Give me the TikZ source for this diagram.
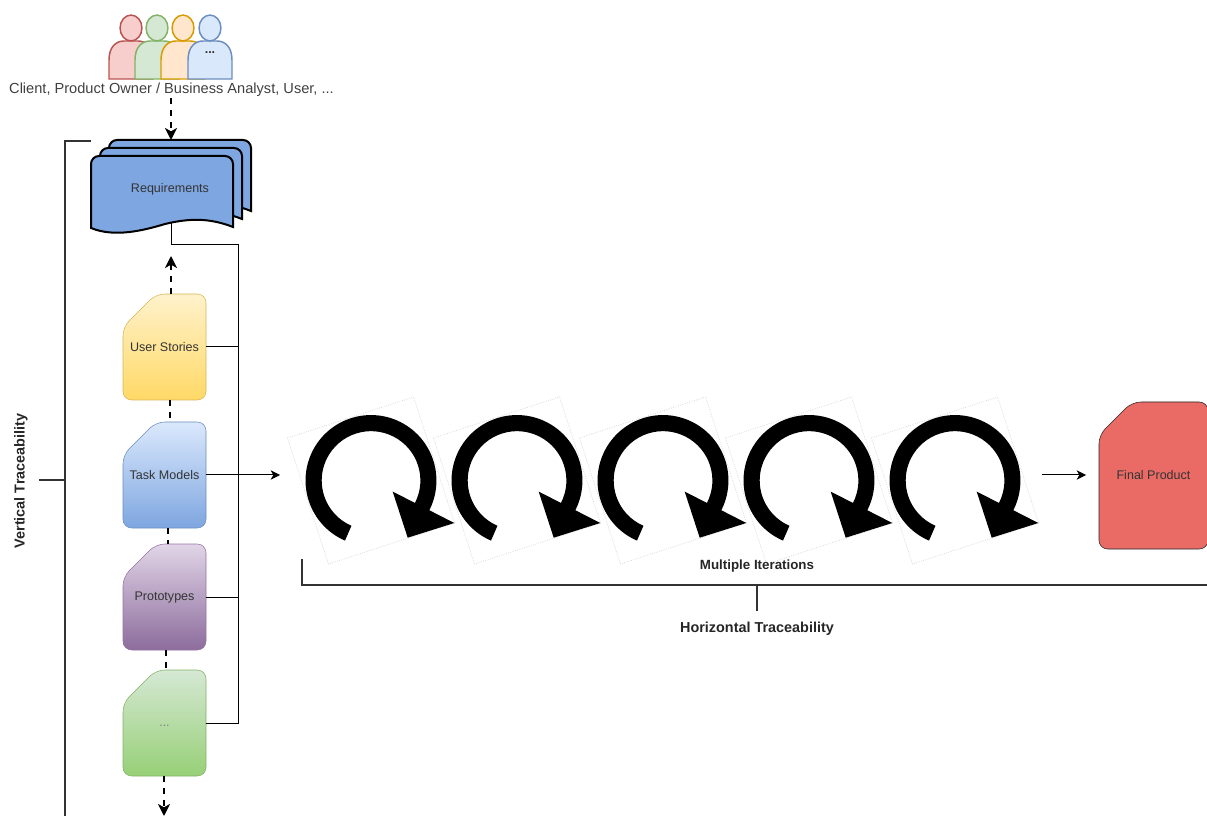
\documentclass[tikz,border=0pt]{standalone}
\usepackage{fontspec}
\setmainfont{Liberation Sans}
\usetikzlibrary{calc,arrows.meta}

\definecolor{usrRedF}{HTML}{F8CECC}
\definecolor{usrRedD}{HTML}{B85450}
\definecolor{usrGreenF}{HTML}{D5E8D4}
\definecolor{usrGreenD}{HTML}{82B366}
\definecolor{usrOrangeF}{HTML}{FFE6CC}
\definecolor{usrOrangeD}{HTML}{D79B00}
\definecolor{usrBlueF}{HTML}{DAE8FC}
\definecolor{usrBlueD}{HTML}{6C8EBF}
\definecolor{reqBlue}{HTML}{7EA6E0}
\definecolor{finalRed}{HTML}{EA6B66}
\definecolor{storyTop}{HTML}{FFF2CC}
\definecolor{storyBot}{HTML}{FFD966}
\definecolor{storyD}{HTML}{D6B656}
\definecolor{protoTop}{HTML}{E1D5E7}
\definecolor{protoBot}{HTML}{8C6C9C}
\definecolor{protoD}{HTML}{9673A6}
\definecolor{otherBot}{HTML}{97D077}

\tikzset{
  cardtext/.style={font=\fontsize{9.4}{11}\selectfont,text=black!80,inner sep=0pt},
  boldlabel/.style={font=\fontsize{10.8}{13}\selectfont\bfseries,text=black!85,inner sep=0pt},
  storycard/.style={draw=storyD,top color=storyTop,bottom color=storyBot},
  taskcard/.style={draw=usrBlueD,top color=usrBlueF,bottom color=reqBlue},
  protocard/.style={draw=protoD,top color=protoTop,bottom color=protoBot},
  othercard/.style={draw=usrGreenD,top color=usrGreenF,bottom color=otherBot},
  finalcard/.style={draw=black!85,fill=finalRed},
  reqpage/.style={draw=black,line width=1.5pt,fill=reqBlue},
  flowdash/.style={-{Stealth[length=9pt,width=9pt,inset=2.5pt]},line width=1.5pt,dash pattern=on 4.5pt off 4.5pt},
  flowplain/.style={line width=1.5pt,dash pattern=on 4.5pt off 4.5pt},
  flowline/.style={line width=.75pt},
  flowarrow/.style={-{Stealth[length=7pt,width=7pt,inset=2pt]},line width=.75pt},
  bracket/.style={line width=1.5pt,draw=black!80},
  iterframe/.style={draw=black!25,densely dotted,line width=.4pt,minimum size=99.4pt,inner sep=0pt}
}

% name, x, y, half width, half height, style, text
\newcommand{\carddoc}[7]{
  \draw[#6,rounded corners=6.5pt] ($(#2,#3)+(-#4,-#5+33)$) -- ($(#2,#3)+(-#4+33,-#5)$)
     -- ($(#2,#3)+(#4,-#5)$) -- ($(#2,#3)+(#4,#5)$) -- ($(#2,#3)+(-#4,#5)$) -- cycle;
  \node[cardtext,minimum width=#4*1.5pt,minimum height=#5*1.5pt] (#1) at (#2,#3) {#7};
}

\begin{document}
\begin{tikzpicture}[x=.75pt,y=-.75pt]
   \useasboundingbox (0,0) rectangle (1207,816);

   % people
   \foreach \px/\pf/\pd in {131/usrRedF/usrRedD,157/usrGreenF/usrGreenD,183/usrOrangeF/usrOrangeD,210/usrBlueF/usrBlueD}{
     \draw[fill=\pf,draw=\pd,line width=1.1pt] (\px-22,79) -- (\px-22,60)
        .. controls (\px-22,47) and (\px-15,41) .. (\px-7,41) -- (\px+7,41)
        .. controls (\px+15,41) and (\px+22,47) .. (\px+22,60) -- (\px+22,79) -- cycle;
     \draw[fill=\pf,draw=\pd,line width=1.1pt] (\px,28) ellipse[x radius=8.2pt,y radius=9.7pt];
   }
   \node[cardtext] (dots) at (210,53) {\bfseries ...};
   \node[cardtext,text=black!75,font=\fontsize{10.95}{13}\selectfont] (client) at (171.5,90) {Client, Product Owner / Business Analyst, User, ...};

   % requirements stack
   \foreach \rx/\ry in {18/-16,9/-8,0/0}{
     \draw[reqpage,shift={(\rx*.75pt,-\ry*.75pt)}] (91,228) [rounded corners=6pt] -- (91,156) -- (233,156) -- (233,175) [sharp corners] -- (233,227)
        .. controls (210,218) and (190,218) .. (165,224)
        .. controls (145,230) and (115,238) .. (91,228) -- cycle;
   }
   \node[cardtext] (req) at (170,189) {Requirements};
   \coordinate (reqtop) at (171,140);
   \coordinate (reqbot) at (171,223);

   % cards
   \carddoc{stories}{164.5}{347}{41.5}{53}{storycard}{User Stories}
   \carddoc{models}{164.5}{475}{41.5}{53}{taskcard}{Task Models}
   \carddoc{protos}{164.5}{597}{41.5}{53}{protocard}{Prototypes}
   \carddoc{others}{164.5}{723}{41.5}{53}{othercard}{\raisebox{-5pt}{\textcolor{black!50}{...}}}
   \carddoc{final}{1153.5}{475.5}{54.5}{73.5}{finalcard}{Final Product}

   % iterations
   \foreach \n/\cx in {1/371,2/517,3/663,4/809,5/955}{
     \node[iterframe,rotate=18] (it\n) at (\cx,480.5) {};
     \fill[black,shift={(\cx*.75pt,-480.5*.75pt)}] (-26,60.1) arc[start angle=246.6,end angle=-27,radius=49.1pt]
        -- (83.3,42.5) -- (36.7,57.2) -- (21.7,11.2) -- (44,22.4)
        arc[start angle=-27,end angle=246.6,radius=37pt] -- cycle;
   }

   \coordinate (busT) at (238,245);
   \coordinate (busB) at (238,723);
   \coordinate (itin) at (280,475);
   \coordinate (itout) at (1042,475);
   \coordinate (finin) at (1086,475);
   \coordinate (reqarrow) at (171,256);
   \coordinate (bottom) at (164,816);

   % dashed flow
   \draw[flowdash] (171,98) -- (reqtop);
   \draw[flowdash] (171,294) -- (reqarrow);
   \draw[flowplain] (170,400) -- (170,422);
   \draw[flowplain] (168,528) -- (168,544);
   \draw[flowplain] (166,650) -- (166,670);
   \draw[flowdash] (164,776) -- (bottom);

   % solid links
   \draw[flowline] (reqbot) |- (busT) -- (busB) -- (others.east);
   \draw[flowline] (stories.east) -- (stories.east -| busT);
   \draw[flowline] (protos.east) -- (protos.east -| busT);
   \draw[flowarrow] (models.east) -- (itin);
   \draw[flowarrow] (itout) -- (finin);

   % brackets
   \coordinate (vL) at (65,816);
   \draw[bracket] (91,141) -- (65,141) -- (vL);
   \draw[bracket] (65,480) -- (39,480);
   \draw[bracket] (302,559) -- (302,585) -- (1207,585);
   \draw[bracket] (757,585) -- (757,611);

   \node[boldlabel,rotate=90] (vtrace) at (21,481) {Vertical Traceability};
   \node[boldlabel,font=\fontsize{10}{12}\selectfont\bfseries] (miter) at (757,566) {Multiple Iterations};
   \node[boldlabel] (htrace) at (757,629) {Horizontal Traceability};
\end{tikzpicture}
\end{document}
